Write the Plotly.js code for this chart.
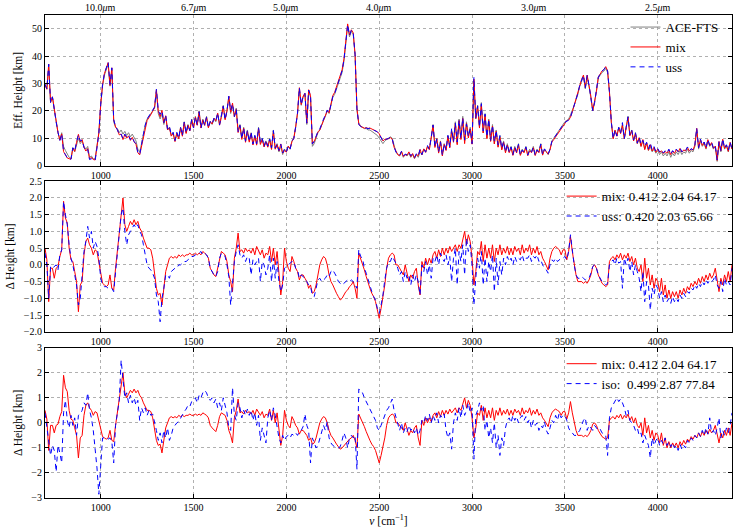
<!DOCTYPE html>
<html><head><meta charset="utf-8">
<script src="https://cdn.plot.ly/plotly-3.0.1.min.js"></script>
<style>html,body{margin:0;padding:0;background:#fff}#chart{width:747px;height:530px}</style>
</head><body><div id="chart"></div>
<script>
// Wavenumber sampling shared by every series [cm^-1]: 700, 710, ... 4400
const NU_START = 700, NU_STEP = 10;

// Effective height of ACE-FTS [km], one row per 100 cm^-1
const aceHeight = [
30,28,36,23,25,20,16,12,9.5,12,
7,5.5,4,3,2.5,6.5,5,8,10,8,
9,7,6,7,3,3.5,2.5,2.5,7,12,
22,29,33,35,37,29,35,16,14,13.5,
12,13,11.5,12.5,11,12,10.5,11.5,10,9,
6,5,8,12,15,17,18,19,20,21,
27,19,17,19,15,18,13,14,11,12,
9,12,10,14,11,16,12,15,13,17,
14,18,15,20,14,17,15,18,14,16,
15,17,16,19,15,18,22,17,20,25,
19,22,18,21,13,15,10,14,9,13,
9,12,8,11,8,14,8,10,7,9,
7,10,6,13,6,8,5,7,4,6,
5,7,6,9,10,14,19,28,22,25,
26,15,27,25,7,8,10,12,13,15,
16.5,18,20,19,22,25,26,28,30,32,
34,38,45,51,47,49,48,40,20,15.5,
14.5,14,13.5,13.5,13,13,12.5,12,11.5,11,
10,9,8,9,9.5,10,10.5,10,7,5,
4,3.5,5,3,4,3.5,4.5,3,4,2.5,
4,3,5,4,6,5,7,6,10,15,
7,10,5,9,4,8,6,11,7,13,
9,16,8,17,10,18,9,16,11,14,
8,31,17,22,14,23,12,19,10,17,
9,15,8,13,7,11,6,9,5,8,
5,7,4,7,5,8,4,6,5,7,
4,6,5,7,4,6,5,8,4,6,
5,4,6,9,10,11,12,13,14,15,
16,16.5,17,18.5,20,22,24,26,29,31,
32.5,28,32.5,29,25,20,23,27,32,33,
34,34.5,35.5,34,27,16,10,13,11,14,
12,15,10,14,18,11,13,9,12,8,
10,7,9,6,8,5.5,7,5,6,4.5,
5.5,4,5,3.5,4.5,3.5,5,3,4.5,3.5,
5,4,5.5,4,5,4.5,6,4.5,5.5,5,
7,13,6,9,7,8,6,9,7,8,
6,7,1.5,8,5,9,6,7,5,8,6
];

// Delta height (ACE-FTS minus model) [km] for the "mix" model
const deltaMix = [
0.5,0.15,-1.1,-0.1,-0.1,-0.4,-0.1,-0.05,0.25,0.45,
1.9,1.4,1.25,0.5,0.15,0.1,-0.2,-0.5,-1.4,-0.6,
-0.5,0.3,0.7,0.8,0.6,0.5,0.3,0.45,0.4,0.1,
-0.3,-0.55,-0.6,-0.65,-0.6,-0.3,-0.7,-0.75,-0.1,0.45,
0.8,1.5,2.0,1.2,1.0,1.15,1.3,1.2,1.35,1.2,
1.3,1.1,1.0,0.8,0.65,0.5,0.5,0.45,0.2,-0.2,
-0.7,-0.9,-0.85,-1.2,-0.6,-0.2,0.0,0.2,0.25,0.2,
0.25,0.2,0.3,0.25,0.3,0.25,0.3,0.3,0.35,0.3,
0.3,0.35,0.3,0.35,0.3,0.4,0.35,0.3,0.2,-0.1,
-0.2,-0.3,-0.35,-0.1,0.25,0.4,0.35,0.3,0.1,-0.3,
-0.5,-0.8,0.2,0.5,0.95,0.4,0.45,0.35,0.5,0.4,
0.45,0.35,0.5,0.3,0.55,0.4,0.3,0.45,0.2,0.35,
0.3,0.55,0.1,0.5,0.0,0.4,-0.3,-0.9,-0.5,0.5,
0.1,-0.1,-0.2,0.25,0.1,-0.1,-0.2,-0.45,-0.3,-0.3,
-0.4,-0.5,-0.7,-0.6,-0.85,-0.8,-0.6,-0.3,0.0,0.15,
0.25,0.2,0.0,-0.3,-0.5,-0.6,-0.75,-0.85,-0.95,-1.05,
-1.0,-0.9,-0.8,-0.75,-0.65,-0.6,-0.5,-0.7,-1.0,0.35,
0.2,0.05,-0.15,-0.35,-0.55,-0.7,-0.85,-0.95,-1.1,-1.35,
-1.6,-1.3,-1.0,-0.6,-0.1,0.2,0.3,0.35,0.3,0.0,
0.0,-0.1,-0.2,-0.3,0.0,-0.3,-0.5,-0.3,-0.4,-0.2,
-0.1,-0.6,-0.9,0.1,-0.1,0.2,0.0,0.2,0.05,0.3,
0.4,0.2,0.45,0.25,0.5,0.3,0.5,0.35,0.55,0.4,
0.5,0.6,0.4,0.6,0.5,0.8,1.0,0.6,0.9,0.7,
0.2,-0.6,-0.2,0.4,0.3,0.7,0.1,0.6,0.2,0.5,
0.2,0.6,0.1,0.5,0.3,0.6,0.3,0.5,0.35,0.55,
0.3,0.5,0.3,0.55,0.4,0.5,0.3,0.6,0.35,0.5,
0.4,0.6,0.3,0.5,0.35,0.55,0.3,0.4,0.2,0.1,
-0.05,-0.15,0.2,0.4,0.5,0.55,0.5,0.45,0.3,0.45,
0.45,0.15,0.4,0.85,0.4,0.05,-0.3,-0.5,-0.5,-0.5,
-0.55,-0.5,-0.55,-0.45,-0.3,-0.05,0.0,-0.1,-0.3,-0.45,
-0.55,-0.6,-0.65,-0.6,0.1,0.2,0.25,0.15,0.3,0.2,
0.35,0.15,0.3,0.2,0.35,0.1,0.25,0.0,0.2,-0.1,
-0.2,0.0,-0.5,0.2,-0.4,-0.1,-0.6,-0.3,-0.7,-0.4,
-0.5,-0.8,-0.4,-0.9,-0.6,-1.0,-0.75,-1.0,-0.8,-0.95,
-0.8,-1.0,-0.75,-0.9,-0.7,-0.85,-0.65,-0.75,-0.55,-0.65,
-0.5,-0.6,-0.4,-0.55,-0.35,-0.5,-0.3,-0.45,-0.25,-0.4,
-0.3,-0.1,-0.4,-0.8,-0.4,-0.6,-0.3,-0.5,-0.2,-0.5,0.0
];

// Delta height [km] for the "uss" model
const deltaUss = [
0.35,0.0,-1.0,-0.05,-0.1,-0.05,0.0,-0.15,0.3,0.45,
1.9,1.5,1.2,0.6,0.2,0.0,-0.3,-0.6,-1.2,-1.0,
-0.3,0.4,0.7,1.15,0.8,1.0,0.5,0.7,0.55,0.2,
-0.4,-0.6,-0.65,-0.65,-0.7,-0.7,-0.7,-0.8,-0.2,0.4,
0.8,1.5,1.7,1.0,0.6,0.9,1.0,1.1,1.2,1.1,
1.2,1.0,0.9,0.6,0.3,0.0,-0.1,-0.15,-0.25,-0.4,
-0.9,-1.1,-1.7,-1.0,-0.7,-0.3,-0.3,-0.4,-0.2,-0.15,
-0.1,-0.1,0.0,0.0,0.05,0.1,0.1,0.15,0.2,0.25,
0.25,0.3,0.3,0.35,0.4,0.3,0.35,0.3,0.2,-0.1,
-0.2,-0.3,-0.35,-0.2,0.2,0.35,0.3,0.25,0.0,-0.35,
-1.2,-0.5,0.1,0.4,0.6,0.3,0.2,0.3,0.1,0.25,
0.2,-0.3,0.15,0.0,0.1,0.2,-0.5,0.1,0.0,-0.3,
-0.1,0.3,-0.5,0.2,-0.4,0.1,-0.5,-0.8,-0.6,-0.1,
-0.05,0.0,0.05,0.1,0.1,-0.1,-0.15,-0.4,-0.3,-0.35,
-0.4,-0.5,-0.6,-0.65,-0.9,-0.95,-0.7,-0.45,-0.4,-0.5,
-0.45,-0.4,-0.3,-0.35,-0.2,-0.15,-0.25,-0.35,-0.5,-0.55,
-0.6,-0.55,-0.5,-0.45,-0.5,-0.45,-0.5,-0.6,-0.7,0.45,
0.25,0.2,-0.1,-0.25,-0.45,-0.65,-0.8,-0.95,-1.05,-1.3,
-1.45,-1.2,-0.9,-0.45,-0.1,0.1,0.1,0.25,0.15,0.05,
-0.1,-0.3,-0.2,-0.5,-0.2,-0.4,-0.3,-0.6,-0.3,-0.5,
-0.3,-0.5,-0.9,0.0,-0.2,0.1,-0.3,0.0,-0.4,0.2,
0.1,0.3,0.0,0.35,0.2,0.1,0.3,0.0,0.25,-0.5,
0.2,0.5,-0.6,0.4,0.1,0.6,-0.3,0.8,0.4,0.6,
0.0,-1.2,-0.4,0.2,-0.1,0.4,-0.6,0.2,-0.5,0.1,
-0.2,0.3,-0.8,0.2,-0.6,0.1,-0.3,0.2,0.0,0.25,
0.1,0.2,0.0,0.25,0.1,0.2,0.15,0.3,0.1,0.2,
0.2,0.3,0.1,0.25,0.2,0.3,0.1,0.15,0.0,-0.1,
-0.15,-0.25,0.0,0.15,0.1,0.2,0.1,0.15,0.2,0.2,
0.25,0.15,0.4,0.9,0.4,0.0,-0.3,-0.4,-0.4,-0.35,
-0.4,-0.45,-0.4,-0.4,-0.25,-0.05,0.0,-0.1,-0.3,-0.4,
-0.5,-0.55,-0.6,-0.55,0.0,0.1,0.15,0.0,0.2,0.05,
0.1,-0.7,0.2,0.0,0.2,-0.2,0.1,-0.3,0.0,-0.2,
-0.4,-0.8,-0.2,-1.1,-0.5,-0.6,-1.35,-0.7,-0.9,-0.6,
-0.7,-1.0,-0.8,-1.1,-0.9,-1.1,-1.0,-1.15,-0.95,-1.1,
-1.0,-1.1,-0.9,-1.0,-0.85,-0.95,-0.8,-0.85,-0.7,-0.75,
-0.6,-0.7,-0.55,-0.65,-0.5,-0.6,-0.45,-0.55,-0.45,-0.5,
-0.45,-0.3,-0.6,-0.7,-0.5,-0.8,-0.4,-0.6,-0.5,-0.6,-0.1
];

// Delta height [km] for the "iso" model
const deltaIso = [
0.4,-0.2,-0.6,-1.3,-0.9,-1.1,-1.95,-0.9,-1.2,-1.6,
0.4,0.9,0.1,-0.2,0.3,-0.1,0.2,-0.5,0.3,0.35,
0.5,0.8,0.7,1.2,0.5,0.2,-0.3,-1.0,-1.8,-2.85,
-1.6,-0.6,-0.6,-0.6,-0.65,-0.6,-0.75,-1.6,-0.1,0.4,
0.9,2.5,1.8,1.0,1.2,0.8,1.1,0.8,1.0,0.7,
0.9,0.1,0.6,0.4,0.6,0.3,0.5,0.3,0.35,0.05,
-0.3,-0.7,-0.4,-0.8,-0.3,-0.6,-0.2,-0.7,-0.5,-0.2,
-0.1,0.0,0.05,0.2,0.3,0.45,0.55,0.7,0.65,0.85,
0.9,1.0,0.8,1.1,1.0,1.2,1.3,1.2,1.0,0.9,
1.0,0.8,0.95,0.6,0.8,0.5,1.0,0.7,0.4,-0.2,
-0.3,1.4,0.3,0.1,0.8,0.6,0.2,0.5,0.3,0.55,
0.3,0.5,0.1,0.4,-0.1,0.3,-0.7,-0.2,-0.5,-0.8,
0.2,0.5,0.1,0.6,0.3,-0.2,-0.6,-0.8,-0.5,-0.7,
-0.55,-0.5,-0.6,-0.45,-0.5,-0.4,-0.5,-0.35,-0.3,-0.15,
0.35,-0.1,-0.3,-1.6,-0.6,-0.8,-1.0,-0.9,-0.6,-0.3,
-0.1,-0.3,0.05,-0.6,-0.8,-0.9,-0.95,-1.0,-1.0,-0.95,
-0.7,-0.4,-0.6,-1.0,-0.6,-0.5,-0.6,-0.5,-1.85,1.35,
1.3,1.2,1.0,0.85,0.75,0.6,0.45,0.3,0.1,-0.2,
-0.3,-0.1,0.1,0.3,0.5,0.6,0.8,0.95,0.5,0.2,
-0.1,-0.3,0.0,-0.4,-0.2,-0.35,-0.1,-0.3,-0.2,-0.4,
-0.2,-0.5,-0.3,0.1,0.0,0.3,0.1,0.35,0.0,0.3,
0.1,0.4,0.0,0.3,0.2,0.35,-0.3,-0.6,-0.4,-1.05,
0.0,0.4,0.1,0.6,0.2,0.7,0.3,0.5,0.8,0.4,
0.6,-1.45,0.3,0.5,0.8,0.5,0.7,-0.3,0.1,-0.6,
-0.2,-0.8,0.0,-1.0,-0.5,-1.3,-0.6,-0.9,-0.2,0.1,
0.2,0.0,0.3,0.1,0.25,0.0,0.2,0.3,0.1,0.25,
0.0,0.15,-0.2,0.1,-0.1,0.0,-0.3,-0.1,-0.2,0.05,
-0.3,-0.45,-0.2,0.1,0.0,0.3,0.1,0.4,0.2,0.3,
0.3,0.1,-0.2,-0.35,-0.4,-0.5,-0.5,-0.4,-0.3,-0.1,
0.1,0.2,-0.3,-0.1,-0.2,-0.3,-0.1,-0.2,-0.3,-0.25,
-0.4,-0.45,-0.5,-1.3,0.2,0.6,0.75,0.9,1.0,0.85,
0.95,0.8,0.6,0.3,0.5,0.1,0.0,-0.1,-0.3,-0.2,
-0.5,-0.4,-0.8,-0.5,-0.7,-0.9,-1.4,-0.6,-0.9,-0.7,
-0.6,-0.9,-0.7,-0.85,-0.6,-0.9,-0.75,-0.95,-0.8,-1.0,
-0.9,-1.1,-0.85,-1.05,-0.9,-1.0,-0.7,-0.8,-0.6,-0.7,
-0.5,-0.6,-0.4,-0.55,-0.3,-0.5,-0.2,-0.45,0.2,-0.4,
-0.3,-0.5,-0.2,0.2,-0.6,-0.3,-0.5,-0.2,-0.4,-0.1,0.4
];

// Legend statistics shown for each model
const statsMix = [0.412, 2.04, 64.17];
const statsUss = [0.420, 2.03, 65.66];
const statsIso = [0.499, 2.87, 77.84];

// Top (wavelength) axis ticks
const topTickNu = [1000, 1500, 2000, 2500, 3333.33, 4000];
const topTickLabels = ['10.0', '6.7', '5.0', '4.0', '3.0', '2.5'];

const nu = aceHeight.map((_, i) => NU_START + i * NU_STEP);
// model effective heights: ACE-FTS minus the plotted delta
const mixHeight = aceHeight.map((h, i) => h - deltaMix[i]);
const ussHeight = aceHeight.map((h, i) => h - deltaUss[i]);

const FONT = 'Liberation Serif, Times New Roman, serif';
const RED = '#ff0000', BLUE = '#0000ff', GRAY = '#808080';
const DASH = '5px,4px';
const fmt = (s) => s[0].toFixed(3) + ' ' + s[1].toFixed(2) + ' ' + s[2].toFixed(2);

const traces = [
  {x: nu, y: aceHeight, name: 'ACE-FTS', xaxis: 'x', yaxis: 'y', legend: 'legend', line: {color: GRAY, width: 1}},
  {x: nu, y: mixHeight, name: 'mix', xaxis: 'x', yaxis: 'y', legend: 'legend', line: {color: RED, width: 1}},
  {x: nu, y: ussHeight, name: 'uss', xaxis: 'x', yaxis: 'y', legend: 'legend', line: {color: BLUE, width: 1, dash: DASH}},
  {x: nu, y: deltaMix, name: 'mix: ' + fmt(statsMix), xaxis: 'x2', yaxis: 'y2', legend: 'legend2', line: {color: RED, width: 1}},
  {x: nu, y: deltaUss, name: 'uss: ' + fmt(statsUss), xaxis: 'x2', yaxis: 'y2', legend: 'legend2', line: {color: BLUE, width: 1, dash: DASH}},
  {x: nu, y: deltaMix, name: 'mix: ' + fmt(statsMix), xaxis: 'x3', yaxis: 'y3', legend: 'legend3', line: {color: RED, width: 1}},
  {x: nu, y: deltaIso, name: 'iso:\u00a0 ' + fmt(statsIso), xaxis: 'x3', yaxis: 'y3', legend: 'legend3', line: {color: BLUE, width: 1, dash: DASH}}
].map(t => Object.assign({type: 'scatter', mode: 'lines', hoverinfo: 'skip'}, t));

const tickFont = {family: FONT, size: 10, color: '#000'};
const titleFont = {family: FONT, size: 11.5, color: '#000'};
function xAx(anchor, mirror) {
  return {anchor: anchor, range: [700, 4400], dtick: 500, tick0: 0, ticks: 'inside', ticklen: 4,
    tickcolor: '#000', showline: true, linecolor: '#000', linewidth: 1, mirror: mirror,
    showgrid: true, gridcolor: '#b0b0b0', griddash: 'dot', gridwidth: 1, zeroline: false,
    tickfont: tickFont, automargin: false};
}
function yAx(domain, range, dtick, fmtStr, title) {
  return {domain: domain, range: range, dtick: dtick, tick0: 0, tickformat: fmtStr, ticks: 'inside', ticklen: 4,
    tickcolor: '#000', showline: true, linecolor: '#000', linewidth: 1, mirror: 'ticks',
    showgrid: true, gridcolor: '#b0b0b0', griddash: 'dot', gridwidth: 1, zeroline: false,
    tickfont: tickFont, automargin: false,
    title: {text: title, font: titleFont, standoff: 6}};
}
const legendBase = {xanchor: 'left', yanchor: 'top', bgcolor: 'rgba(0,0,0,0)', borderwidth: 0,
  font: {family: FONT, size: 13, color: '#000'}, tracegroupgap: 0, itemclick: false};

// wavelength labels along the top of the first panel, placed at their wavenumbers
const topLabels = topTickNu.map((v, i) => ({
  x: v, xref: 'x', y: 1, yref: 'paper', yanchor: 'bottom', xanchor: 'center', yshift: 0,
  text: topTickLabels[i] + '<i>μ</i>m', showarrow: false, font: tickFont
}));

const layout = {
  width: 747, height: 530,
  margin: {l: 45, r: 15, t: 13, b: 32},
  paper_bgcolor: '#fff', plot_bgcolor: '#fff',
  font: {family: FONT, color: '#000'},
  showlegend: true,
  xaxis: xAx('y', true),
  xaxis2: xAx('y2', 'ticks'),
  xaxis3: Object.assign(xAx('y3', 'ticks'), {title: {text: '<i>ν</i> [cm<sup>−1</sup>]', font: titleFont, standoff: 2}}),
  yaxis: yAx([0.6883, 1], [0, 55], 10, 'd', 'Eff. Height [km]'),
  yaxis2: yAx([0.3441, 0.6559], [-2, 2.5], 0.5, '.1f', 'Δ Height [km]'),
  yaxis3: yAx([0, 0.3111], [-3, 3], 1, 'd', 'Δ Height [km]'),
  legend: Object.assign({}, legendBase, {x: 0.845, y: 1.006}),
  legend2: Object.assign({}, legendBase, {x: 0.752, y: 0.656}),
  legend3: Object.assign({}, legendBase, {x: 0.752, y: 0.309}),
  annotations: topLabels
};

Plotly.newPlot('chart', traces, layout, {staticPlot: true, displayModeBar: false});
</script>
</body></html>
